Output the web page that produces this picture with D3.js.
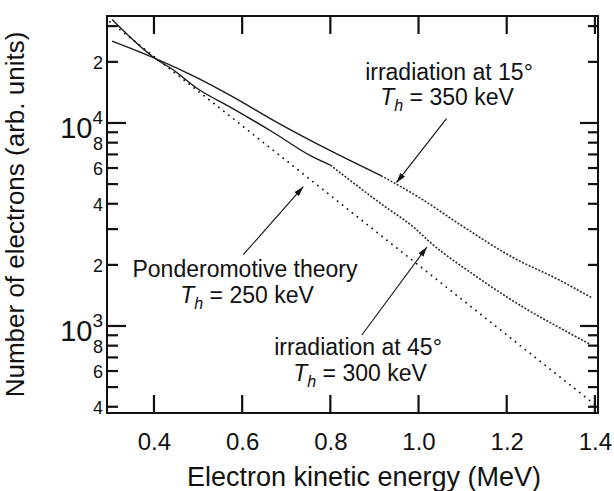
<!DOCTYPE html>
<html>
<head>
<meta charset="utf-8">
<script src="https://cdn.jsdelivr.net/npm/d3@7"></script>
<style>
  body { margin: 0; background: #fff; }
  svg text { font-family: "Liberation Sans", Arial, Helvetica, sans-serif; fill: #111; }
</style>
</head>
<body>
<div id="chart"></div>
<script>
// Electron spectra, log y axis

// irradiation at 15 deg (Th = 350 keV)
var energy15 = [0.305, 0.405, 0.505, 0.575, 0.685, 0.80, 0.915, 1.005, 1.095, 1.21, 1.32, 1.395];
var counts15 = [25300, 20700, 16400, 13600, 9900, 7300, 5500, 4250, 3150, 2200, 1680, 1370];

// irradiation at 45 deg (Th = 300 keV)
var energy45 = [0.305, 0.405, 0.44, 0.50, 0.575, 0.67, 0.755, 0.80, 0.915, 0.99, 1.025, 1.13, 1.245, 1.32, 1.39];
var counts45 = [32300, 20600, 18500, 14700, 11900, 9000, 6900, 6200, 4000, 3050, 2600, 1760, 1210, 980, 810];

// ponderomotive theory (Th = 250 keV)
var energyTheory = [0.30, 0.575, 0.975, 1.40];
var countsTheory = [31500, 10700, 2200, 410];

var xTickValues = [0.4, 0.6, 0.8, 1.0, 1.2, 1.4];
var yMajorTicks = [1000, 10000];
var yMinorTicks = [400, 500, 600, 700, 800, 900, 2000, 3000, 4000, 5000, 6000, 7000, 8000, 9000, 20000, 30000];
var yMinorLabelled = [2, 4, 6, 8];

var svgWidth = 614;
var svgHeight = 491;

var margin = {
    top: 16,
    right: 16,
    bottom: 78,
    left: 107
};

var width = svgWidth - margin.left - margin.right;
var height = svgHeight - margin.top - margin.bottom;

var svg = d3.select("#chart")
    .append("svg")
    .attr("width", svgWidth)
    .attr("height", svgHeight);

var defs = svg.append("defs");
defs.append("marker")
    .attr("id", "arrow")
    .attr("viewBox", "0 0 10 6")
    .attr("refX", 10)
    .attr("refY", 3)
    .attr("markerWidth", 10)
    .attr("markerHeight", 6)
    .attr("markerUnits", "userSpaceOnUse")
    .attr("orient", "auto")
    .append("path")
    .attr("d", "M0,0 L10,3 L0,6 Z")
    .attr("fill", "#111");

var chart = svg.append("g")
    .attr("transform", `translate(${margin.left}, ${margin.top})`);

var xScale = d3.scaleLinear()
    .domain([0.2935, 1.407])
    .range([0, width]);

var yScale = d3.scaleLog()
    .domain([372.7, 33650])
    .range([height, 0]);

// bottom axis labels
var bottomAxis = d3.axisBottom(xScale)
    .tickValues(xTickValues)
    .tickSize(0)
    .tickPadding(20)
    .tickFormat(d3.format(".1f"));

var xAxis = chart.append("g")
    .attr("transform", `translate(0, ${height})`)
    .call(bottomAxis);
xAxis.select(".domain").remove();
xAxis.selectAll("text")
    .attr("font-size", 24)
    .attr("fill", "#111");

// left axis labels (minor)
var leftMinor = d3.axisLeft(yScale)
    .tickValues(yMinorTicks)
    .tickSize(0)
    .tickPadding(4)
    .tickFormat(function(d) {
        var lead = Math.round(d / Math.pow(10, Math.floor(Math.log10(d) + 1e-9)));
        return yMinorLabelled.indexOf(lead) >= 0 ? String(lead) : "";
    });
var yAxisMinor = chart.append("g").call(leftMinor);
yAxisMinor.select(".domain").remove();
yAxisMinor.selectAll("text")
    .attr("font-size", 18)
    .attr("dy", "0.36em");

// left axis labels (decades)
var leftMajor = d3.axisLeft(yScale)
    .tickValues(yMajorTicks)
    .tickSize(0)
    .tickPadding(4)
    .tickFormat("");
var yAxisMajor = chart.append("g").call(leftMajor);
yAxisMajor.select(".domain").remove();
yAxisMajor.selectAll(".tick text").each(function(d) {
    var t = d3.select(this)
        .attr("dy", null)
        .attr("y", 15);
    t.append("tspan")
        .attr("font-size", 29)
        .text("10");
    t.append("tspan")
        .attr("font-size", 19)
        .attr("dy", -14)
        .text(Math.round(Math.log10(d)));
});

// frame
chart.append("rect")
    .attr("x", 0)
    .attr("y", 0)
    .attr("width", width)
    .attr("height", height)
    .attr("fill", "none")
    .attr("stroke", "#111")
    .attr("stroke-width", 2);

// curves
var line = d3.line()
    .x(d => xScale(d[0]))
    .y(d => yScale(d[1]))
    .curve(d3.curveMonotoneX);

function drawMeasured(energy, counts, split) {
    var pts = energy.map((e, i) => [e, counts[i]]);
    var k = pts.findIndex(p => p[0] > split);
    chart.append("path")
        .datum(pts.slice(0, k))
        .attr("d", line)
        .attr("fill", "none")
        .attr("stroke", "#1a1a1a")
        .attr("stroke-width", 1.4);
    chart.append("path")
        .datum(pts.slice(k - 1))
        .attr("d", line)
        .attr("fill", "none")
        .attr("stroke", "#2a2a2a")
        .attr("stroke-width", 1.6)
        .attr("stroke-dasharray", "2,1.6");
}

drawMeasured(energy15, counts15, 0.95);
drawMeasured(energy45, counts45, 0.9);

chart.append("path")
    .datum(energyTheory.map((e, i) => [e, countsTheory[i]]))
    .attr("d", d3.line().x(d => xScale(d[0])).y(d => yScale(d[1])))
    .attr("fill", "none")
    .attr("stroke", "#111")
    .attr("stroke-width", 1.8)
    .attr("stroke-linecap", "round")
    .attr("stroke-dasharray", "0.1,6.2");

// annotations
function thLabel(g, cx, y, value) {
    var t = g.append("text")
        .attr("x", cx)
        .attr("y", y)
        .attr("text-anchor", "middle")
        .attr("font-size", 23);
    t.append("tspan").attr("font-style", "italic").text("T");
    t.append("tspan").attr("font-style", "italic").attr("font-size", 16).attr("dy", 6).text("h");
    t.append("tspan").attr("dy", -6).text(" = " + value + " keV");
}

function arrow(tipE, tipN, dx, dy) {
    var ax = margin.left + xScale(tipE);
    var ay = margin.top + yScale(tipN);
    svg.append("line")
        .attr("x1", ax + dx)
        .attr("y1", ay + dy)
        .attr("x2", ax)
        .attr("y2", ay)
        .attr("stroke", "#111")
        .attr("stroke-width", 1.1)
        .attr("marker-end", "url(#arrow)");
}

svg.append("text")
    .attr("x", 449)
    .attr("y", 80)
    .attr("text-anchor", "middle")
    .attr("font-size", 23)
    .text("irradiation at 15\u00b0");
thLabel(svg, 447, 105, 350);
arrow(0.95, 5080, 50, -64);

svg.append("text")
    .attr("x", 245)
    .attr("y", 277)
    .attr("text-anchor", "middle")
    .attr("font-size", 23)
    .text("Ponderomotive theory");
thLabel(svg, 247, 303, 250);
arrow(0.7386, 4853, -60, 68);

svg.append("text")
    .attr("x", 358)
    .attr("y", 355)
    .attr("text-anchor", "middle")
    .attr("font-size", 23)
    .text("irradiation at 45\u00b0");
thLabel(svg, 360, 381, 300);
arrow(1.019, 2449, -65, 88);

// axis titles
svg.append("text")
    .attr("x", 364)
    .attr("y", 486)
    .attr("text-anchor", "middle")
    .attr("font-size", 27)
    .text("Electron kinetic energy (MeV)");

svg.append("text")
    .attr("transform", `translate(24, ${margin.top + height / 2}) rotate(-90)`)
    .attr("text-anchor", "middle")
    .attr("font-size", 26)
    .text("Number of electrons (arb. units)");

// tick marks, all pointing inward, one line each
var tickSegs = [];
xTickValues.forEach(function(d) {
    tickSegs.push({x1: xScale(d), y1: height, x2: xScale(d), y2: height - 18});
    tickSegs.push({x1: xScale(d), y1: 0, x2: xScale(d), y2: 18});
});
yMinorTicks.forEach(function(d) {
    tickSegs.push({x1: 0, y1: yScale(d), x2: 11, y2: yScale(d)});
    tickSegs.push({x1: width, y1: yScale(d), x2: width - 10, y2: yScale(d)});
});
yMajorTicks.forEach(function(d) {
    tickSegs.push({x1: 0, y1: yScale(d), x2: 19, y2: yScale(d)});
    tickSegs.push({x1: width, y1: yScale(d), x2: width - 18, y2: yScale(d)});
});
chart.selectAll("line.tick-mark")
    .data(tickSegs)
    .enter()
    .append("line")
    .attr("class", "tick-mark")
    .attr("x1", d => d.x1)
    .attr("y1", d => d.y1)
    .attr("x2", d => d.x2)
    .attr("y2", d => d.y2)
    .attr("stroke", "#111")
    .attr("stroke-width", 2.2);
</script>
</body>
</html>
